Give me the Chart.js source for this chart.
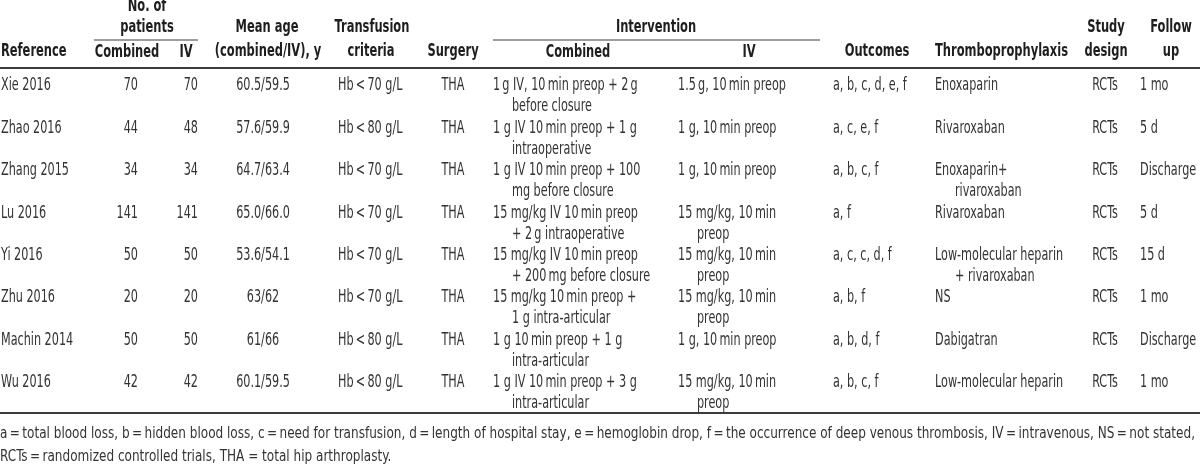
<!DOCTYPE html>
<html>
<head>
<meta charset="utf-8">
<script src="https://cdn.jsdelivr.net/npm/chart.js@4"></script>
<style>
  body { margin: 0; background: #fff; }
  canvas { display: block; }
</style>
</head>
<body>
<canvas id="chart" width="1200" height="471"></canvas>
<script>
// table data
let refs = ["Xie 2016", "Zhao 2016", "Zhang 2015", "Lu 2016", "Yi 2016", "Zhu 2016", "Machin 2014", "Wu 2016"];
let nCombined = [70, 44, 34, 141, 50, 20, 50, 42];
let nIV = [70, 48, 34, 141, 50, 20, 50, 42];
let meanAge = ["60.5/59.5", "57.6/59.9", "64.7/63.4", "65.0/66.0", "53.6/54.1", "63/62", "61/66", "60.1/59.5"];
let transfusion = ["Hb\u2009<\u200970 g/L", "Hb\u2009<\u200980 g/L", "Hb\u2009<\u200970 g/L", "Hb\u2009<\u200970 g/L",
                   "Hb\u2009<\u200970 g/L", "Hb\u2009<\u200970 g/L", "Hb\u2009<\u200980 g/L", "Hb\u2009<\u200980 g/L"];
let surgery = ["THA", "THA", "THA", "THA", "THA", "THA", "THA", "THA"];
let combinedIntervention = [
    ["1\u2009g IV, 10\u2009min preop + 2\u2009g", "before closure"],
    ["1 g IV 10\u2009min preop + 1 g", "intraoperative"],
    ["1 g IV 10\u2009min preop + 100", "mg before closure"],
    ["15 mg/kg IV 10\u2009min preop", "+ 2\u2009g intraoperative"],
    ["15 mg/kg IV 10\u2009min preop", "+ 200\u2009mg before closure"],
    ["15 mg/kg 10\u2009min preop +", "1 g intra-articular"],
    ["1 g 10\u2009min preop + 1 g", "intra-articular"],
    ["1 g IV 10\u2009min preop + 3 g", "intra-articular"]
];
let ivIntervention = [
    ["1.5\u2009g, 10\u2009min preop"],
    ["1 g, 10\u2009min preop"],
    ["1 g, 10\u2009min preop"],
    ["15 mg/kg, 10\u2009min", "preop"],
    ["15 mg/kg, 10\u2009min", "preop"],
    ["15 mg/kg, 10\u2009min", "preop"],
    ["1 g, 10\u2009min preop"],
    ["15 mg/kg, 10\u2009min", "preop"]
];
let outcomes = ["a, b, c, d, e, f", "a, c, e, f", "a, b, c, f", "a, f", "a, c, c, d, f", "a, b, f", "a, b, d, f", "a, b, c, f"];
let thrombo = [
    ["Enoxaparin"], ["Rivaroxaban"], ["Enoxaparin+", "rivaroxaban"], ["Rivaroxaban"],
    ["Low-molecular heparin", "+ rivaroxaban"], ["NS"], ["Dabigatran"], ["Low-molecular heparin"]
];
let design = ["RCTs", "RCTs", "RCTs", "RCTs", "RCTs", "RCTs", "RCTs", "RCTs"];
let followUp = ["1 mo", "5 d", "Discharge", "5 d", "15 d", "1 mo", "Discharge", "1 mo"];
let footnotes = [
    "a\u2009=\u2009total blood loss, b\u2009=\u2009hidden blood loss, c\u2009=\u2009need for transfusion, d\u2009=\u2009length of hospital stay, e\u2009=\u2009hemoglobin drop, f\u2009=\u2009the occurrence of deep venous thrombosis, IV\u2009=\u2009intravenous, NS\u2009=\u2009not stated,",
    "RCTs\u2009=\u2009randomized controlled trials, THA = total hip arthroplasty."
];

// layout (pixel units of the hidden scales)
const FAMILY = '"Liberation Sans Narrow", "Arial Narrow", "DejaVu Sans Condensed", sans-serif';
const BODY = "17px " + FAMILY;
const HEAD = "bold 17px " + FAMILY;
const NOTE = "16px " + FAMILY;
const firstRow = 86, rowStep = 42.4, subLine = 21;

let squeezeBody = 1, squeezeHead = 1;

function text(ctx, xs, ys, str, xv, yv, align, font, color, k) {
    let x = xs.getPixelForValue(xv);
    let y = ys.getPixelForValue(yv);
    ctx.save();
    ctx.font = font;
    ctx.fillStyle = color;
    ctx.textBaseline = "middle";
    ctx.textAlign = "left";
    let w = ctx.measureText(str).width * k;
    if (align == "center") x -= w / 2;
    if (align == "right") x -= w;
    ctx.translate(x, y);
    ctx.scale(k, 1);
    ctx.fillText(str, 0, 0);
    ctx.restore();
}

function rule(ctx, xs, ys, x1, x2, yv, width) {
    ctx.save();
    ctx.strokeStyle = "#3c3c3c";
    ctx.lineWidth = width;
    ctx.beginPath();
    ctx.moveTo(xs.getPixelForValue(x1), ys.getPixelForValue(yv));
    ctx.lineTo(xs.getPixelForValue(x2), ys.getPixelForValue(yv));
    ctx.stroke();
    ctx.restore();
}

function lines(ctx, xs, ys, arr, xv, yv, indent) {
    arr.forEach((s, j) => {
        text(ctx, xs, ys, s, xv + (j ? indent : 0), yv + j * subLine, "left", BODY, "#333", squeezeBody);
    });
}

const tablePlugin = {
    id: "table",
    afterDraw(c) {
        let ctx = c.ctx, xs = c.scales.x, ys = c.scales.y;

        // fit the condensed face to the widths seen in the picture
        ctx.font = BODY;
        squeezeBody = Math.min(1, 63 / ctx.measureText("Enoxaparin").width);
        ctx.font = HEAD;
        squeezeHead = Math.min(1, 133 / ctx.measureText("Thromboprophylaxis").width);

        let H = (s, x, y, a) => text(ctx, xs, ys, s, x, y, a || "center", HEAD, "#1e1e1e", squeezeHead);

        // header
        H("Reference", 1, 52, "left");
        H("No. of", 147, 7);
        H("patients", 147, 28);
        H("Combined", 127, 53);
        H("IV", 186, 53);
        H("Mean age", 267, 28);
        H("(combined/IV), y", 268, 52);
        H("Transfusion", 372, 28);
        H("criteria", 371, 52);
        H("Surgery", 453, 52);
        H("Intervention", 656, 28);
        H("Combined", 578, 53);
        H("IV", 749, 53);
        H("Outcomes", 877, 52);
        H("Thromboprophylaxis", 935, 52, "left");
        H("Study", 1106, 28);
        H("design", 1106, 52);
        H("Follow", 1171, 28);
        H("up", 1171, 52);

        rule(ctx, xs, ys, 94, 198, 40, 1.2);
        rule(ctx, xs, ys, 493, 820, 40, 1.2);
        rule(ctx, xs, ys, 0, 1200, 68, 2);

        // body rows
        refs.forEach((r, i) => {
            let y = firstRow + i * rowStep;
            let B = (s, x, a) => text(ctx, xs, ys, s, x, y, a, BODY, "#333", squeezeBody);
            B(r, 1, "left");
            B(String(nCombined[i]), 138, "right");
            B(String(nIV[i]), 198, "right");
            B(meanAge[i], 263, "center");
            B(transfusion[i], 338, "left");
            B(surgery[i], 453, "center");
            lines(ctx, xs, ys, combinedIntervention[i], 493, y, 19);
            lines(ctx, xs, ys, ivIntervention[i], 678, y, 19);
            B(outcomes[i], 833, "left");
            lines(ctx, xs, ys, thrombo[i], 935, y, 20);
            B(design[i], 1105, "center");
            B(followUp[i], 1140, "left");
        });

        rule(ctx, xs, ys, 0, 1200, 413, 2);

        // footnote, stretched to the printed line width
        ctx.font = NOTE;
        let kNote = 1195 / ctx.measureText(footnotes[0]).width;
        text(ctx, xs, ys, footnotes[0], 0, 434, "left", NOTE, "#333", kNote);
        text(ctx, xs, ys, footnotes[1], 0, 457, "left", NOTE, "#333", kNote);
    }
};

chart = new Chart(document.getElementById("chart"), {
    type: "scatter",
    data: { datasets: [{ data: [] }] },
    options: {
        responsive: false,
        animation: false,
        devicePixelRatio: 1,
        layout: { padding: 0 },
        plugins: { legend: { display: false }, tooltip: { enabled: false } },
        scales: {
            x: { type: "linear", min: 0, max: 1200, display: false },
            y: { type: "linear", min: 0, max: 471, reverse: true, display: false }
        }
    },
    plugins: [tablePlugin]
});
</script>
</body>
</html>
